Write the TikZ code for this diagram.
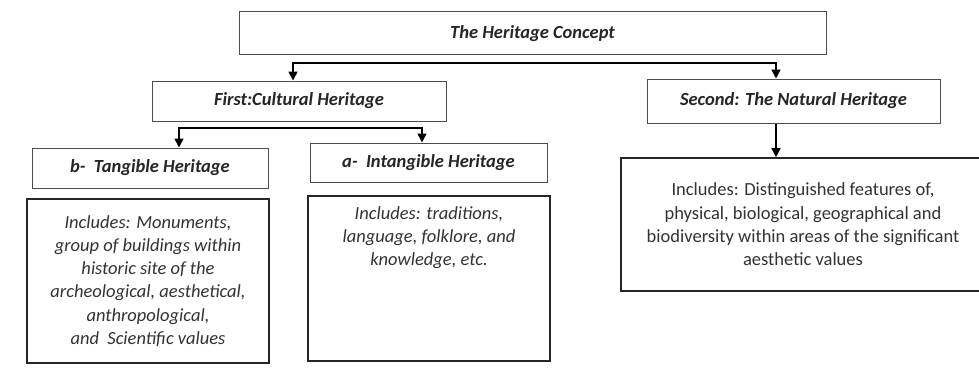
\documentclass[tikz,border=0pt]{standalone}
\usepackage{fontspec}
\setmainfont{Carlito}
\usetikzlibrary{arrows.meta}

\begin{document}
\begin{tikzpicture}[x=1pt,y=-1pt,>={Triangle[length=9pt,width=9pt]},
        headbox/.style={draw=black!70, line width=1pt, inner sep=0pt,
            font=\fontsize{18.5}{22}\selectfont\bfseries\itshape, text=black!85},
        infobox/.style={draw=black!85, line width=1.6pt, inner sep=0pt,
            align=center, font=\fontsize{18.5}{23.3}\selectfont, text=black!80},
        link/.style={line width=1.6pt}]
    \useasboundingbox[fill=white] (0,0) rectangle (979,369);
    % --- headings ---
    \node[headbox, minimum width=587pt, minimum height=43pt] (concept) at (532.5,33.5) {The Heritage Concept};
    \node[headbox, minimum width=294pt, minimum height=40pt] (cultural) at (299,101) {First:Cultural Heritage};
    \node[headbox, minimum width=293pt, minimum height=44pt] (natural) at (793.5,101) {Second: The Natural Heritage};
    \node[headbox, minimum width=236pt, minimum height=40pt] (tangible) at (150,168) {b-\ \ Tangible Heritage};
    \node[headbox, minimum width=237pt, minimum height=39pt] (intangible) at (428.5,162.5) {a-\ \ Intangible Heritage};
    % --- contents ---
    \node[infobox, minimum width=242pt, minimum height=164pt, font=\fontsize{18.5}{23.3}\selectfont\itshape] (tangibleinfo) at (148,281) {Includes: Monuments,\\ group of buildings within\\ historic site of the\\ archeological, aesthetical,\\ anthropological,\\ and\ \ Scientific values};
    \node[infobox, minimum width=242pt, minimum height=165pt] (intangibleinfo) at (429,278.5)
        {\parbox[c][144pt][t]{236pt}{\centering\itshape Includes: traditions,\\ language, folklore, and\\ knowledge, etc.}};
    % runs off the right edge of the picture
    \node[infobox, minimum width=400pt, minimum height=133pt] (naturalinfo) at (821,224.5) {\hspace*{-36pt}\parbox{364pt}{\centering Includes: Distinguished features of,\\ physical, biological, geographical and\\ biodiversity within areas of the significant\\ aesthetic values}};
    % --- connectors ---
    \coordinate (bar1) at (532,63);
    \draw[link,->] (bar1) -| ([xshift=-6pt]cultural.north);
    \draw[link,->] (bar1) -| ([xshift=-17.5pt]natural.north);
    \coordinate (bar2) at (299,128);
    \draw[link,->] (bar2) -| ([xshift=29pt]tangible.north);
    \draw[link,->] (bar2) -| ([xshift=-6.5pt]intangible.north);
    \draw[link,->] ([xshift=-17.5pt]natural.south) -- ([xshift=-17.5pt]natural.south |- naturalinfo.north);
\end{tikzpicture}
\end{document}
